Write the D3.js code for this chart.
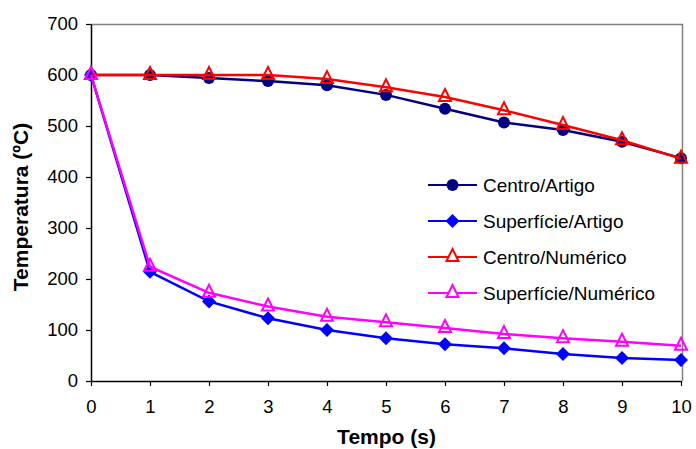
<!DOCTYPE html>
<html><head><meta charset="utf-8">
<script src="https://cdn.jsdelivr.net/npm/d3@7"></script>
<style>body{margin:0;background:#fff}svg{display:block}text{font-family:"Liberation Sans",Arial,sans-serif}</style>
</head><body><svg id="c" width="696" height="449"></svg>
<script>
const tempo = [0,1,2,3,4,5,6,7,8,9,10];
const centroArtigo = [600,600,594,588,580,561,534,507,492,469,437];
const superficieArtigo = [600,214,156,123,100,84,72,64,53,45,41];
const centroNumerico = [600,600,600,600,592,576,557,531,502,472,436];
const superficieNumerico = [600,224,173,146,126,115,104,92,84,77,69];
const seriesNames = ["Centro/Artigo","Superfície/Artigo","Centro/Numérico","Superfície/Numérico"];
const yTicks = [0,100,200,300,400,500,600,700];
const xTicks = [0,1,2,3,4,5,6,7,8,9,10];

const series = [
  {name:seriesNames[0], values:centroArtigo, color:"#000080", marker:"circle"},
  {name:seriesNames[1], values:superficieArtigo, color:"#0000FF", marker:"diamond"},
  {name:seriesNames[2], values:centroNumerico, color:"#FF0000", marker:"triangle"},
  {name:seriesNames[3], values:superficieNumerico, color:"#FF00FF", marker:"triangle"}
];

const svg = d3.select("#c");
const L=91, R=682, T=24, B=381;
const x = d3.scaleLinear().domain([0,10]).range([L,R-1]);
const y = d3.scaleLinear().domain([0,700]).range([B,T]);

svg.append("path").attr("d",`M${L},${T+0.5}H${R+0.5}V${B}`).attr("fill","none").attr("stroke","#808080").attr("stroke-width",1.5);

const yAxis = d3.axisLeft(y).tickValues(yTicks).tickSize(5).tickPadding(8).tickSizeOuter(0);
const gy = svg.append("g").attr("transform",`translate(${L},0)`).call(yAxis);
gy.select(".domain").attr("stroke","#000").attr("stroke-width",1.5);
gy.selectAll(".tick line").attr("stroke","#000").attr("stroke-width",1.2);
gy.selectAll(".tick text").attr("font-size","18.5px").attr("fill","#000").attr("font-family","'Liberation Sans',Arial,sans-serif");

const xAxis = d3.axisBottom(x).tickValues(xTicks).tickSize(5).tickPadding(14).tickSizeOuter(0);
const gx = svg.append("g").attr("transform",`translate(0,${B})`).call(xAxis);
gx.select(".domain").attr("stroke","#000").attr("stroke-width",1.5);
gx.selectAll(".tick line").attr("stroke","#000").attr("stroke-width",1.2);
gx.selectAll(".tick text").attr("font-size","18.5px").attr("fill","#000").attr("font-family","'Liberation Sans',Arial,sans-serif");

svg.append("text").attr("x",(L+R)/2).attr("y",444).attr("text-anchor","middle")
  .attr("font-size","21px").attr("font-weight","bold").text("Tempo (s)");
svg.append("text").attr("transform",`translate(28,207) rotate(-90)`).attr("text-anchor","middle")
  .attr("font-size","21px").attr("font-weight","bold").text("Temperatura (ºC)");

function drawMarker(g, type, color, cx, cy){
  if(type==="circle"){
    g.append("circle").attr("cx",cx).attr("cy",cy).attr("r",6).attr("fill",color);
  } else if(type==="diamond"){
    g.append("path").attr("d",`M${cx},${cy-7}L${cx+7},${cy}L${cx},${cy+7}L${cx-7},${cy}Z`).attr("fill",color);
  } else {
    g.append("path").attr("d",`M${cx},${cy-8}L${cx+6},${cy+4}L${cx-6},${cy+4}Z`)
      .attr("fill","none").attr("stroke",color).attr("stroke-width",2);
  }
}

const line = d3.line().x((d,i)=>x(tempo[i])).y(d=>y(d));
series.forEach(s=>{
  const g = svg.append("g");
  g.append("path").attr("d",line(s.values)).attr("fill","none").attr("stroke",s.color).attr("stroke-width",2.5);
  s.values.forEach((v,i)=>drawMarker(g,s.marker,s.color,x(tempo[i]),y(v)));
});

const legY = d3.scalePoint().domain(seriesNames).range([185,293]);
series.forEach(s=>{
  const g = svg.append("g");
  const yy = legY(s.name);
  g.append("line").attr("x1",428).attr("x2",477).attr("y1",yy).attr("y2",yy).attr("stroke",s.color).attr("stroke-width",2);
  if(s.marker==="triangle"){
    g.append("path").attr("d",`M452.5,${yy-8}L458.5,${yy+4}L446.5,${yy+4}Z`).attr("fill","#fff").attr("stroke",s.color).attr("stroke-width",2);
  } else drawMarker(g,s.marker,s.color,452.5,yy);
  g.append("text").attr("x",483).attr("y",yy+6.5).attr("font-size","19px").attr("fill","#000").text(s.name);
});
</script></body></html>
